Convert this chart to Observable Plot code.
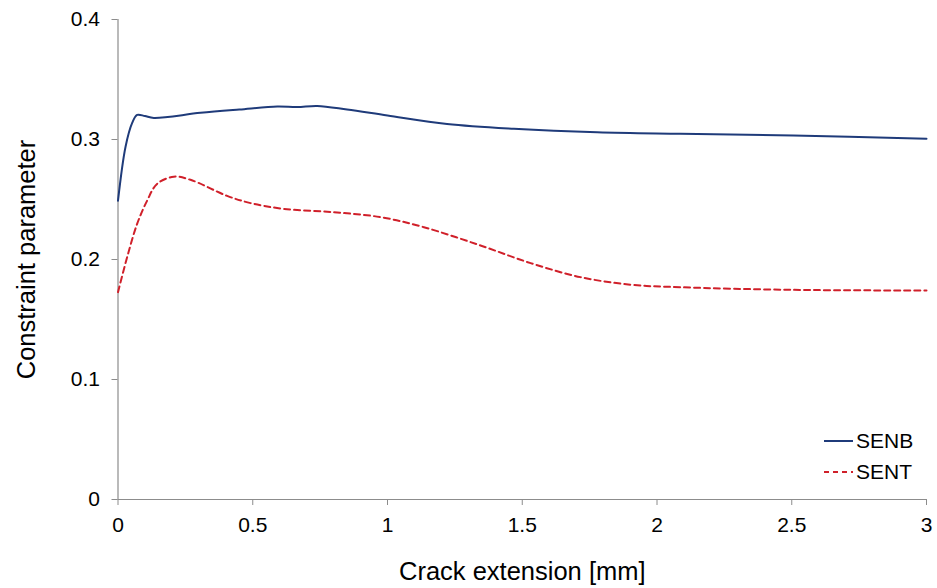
<!DOCTYPE html>
<html>
<head>
<meta charset="utf-8">
<script src="https://cdn.jsdelivr.net/npm/d3@7"></script>
<script src="https://cdn.jsdelivr.net/npm/@observablehq/plot@0.6"></script>
<style>
  body { margin: 0; background: #fff; font-family: "Liberation Sans", Arial, sans-serif; }
  #wrap { position: relative; width: 937px; height: 588px; }
  .leg { position: absolute; left: 824px; display: flex; align-items: center; font-size: 21px; color: #000; }
  .leg svg { margin-right: 3px; }
</style>
</head>
<body>
<div id="wrap"></div>
<script>
const senbX = [0, 0.028, 0.053, 0.071, 0.1, 0.133, 0.306, 0.45, 0.591, 0.665, 0.739, 0.85, 1.0, 1.221, 1.469, 1.778, 2.087, 2.506, 3.0];
const senbY = [0.249, 0.294, 0.314, 0.3205, 0.3195, 0.318, 0.3222, 0.325, 0.3275, 0.327, 0.328, 0.325, 0.320, 0.313, 0.309, 0.306, 0.3047, 0.3033, 0.3006];
const sentX = [0, 0.034, 0.071, 0.108, 0.145, 0.207, 0.269, 0.405, 0.492, 0.615, 0.801, 0.974, 1.135, 1.345, 1.531, 1.716, 1.902, 2.087, 2.506, 3.0];
const sentY = [0.1728, 0.202, 0.2297, 0.249, 0.263, 0.269, 0.2664, 0.253, 0.247, 0.2422, 0.2394, 0.2353, 0.2269, 0.2117, 0.197, 0.1853, 0.179, 0.1769, 0.1747, 0.1742];
const xTicks = [0, 0.5, 1, 1.5, 2, 2.5, 3];
const yTicks = [0, 0.1, 0.2, 0.3, 0.4];
const seriesNames = ["SENB", "SENT"];
const xLabel = "Crack extension [mm]";
const yLabel = "Constraint parameter";

const senb = senbX.map((x, i) => ({x, y: senbY[i]}));
const sent = sentX.map((x, i) => ({x, y: sentY[i]}));
const axisColor = "#8c8c8c";
const senbColor = "#1f3b7a";
const sentColor = "#d0202a";

const chart = Plot.plot({
  width: 937,
  height: 588,
  marginLeft: 117.5,
  marginRight: 11,
  marginTop: 19,
  marginBottom: 89,
  style: {fontFamily: "'Liberation Sans', Arial, sans-serif", background: "#fff"},
  x: {domain: [0, 3]},
  y: {domain: [0, 0.4]},
  marks: [
    Plot.axisX({ticks: xTicks, tickFormat: d => String(d), tickSize: 6, tickPadding: 12, fontSize: 21, stroke: axisColor, color: "#000", label: null}),
    Plot.axisY({ticks: yTicks, tickFormat: d => String(d), tickSize: 6, tickPadding: 12, fontSize: 21, stroke: axisColor, color: "#000", label: null}),
    Plot.ruleY([0], {stroke: axisColor, strokeWidth: 1.2}),
    Plot.ruleX([0], {stroke: axisColor, strokeWidth: 1.2}),
    Plot.line(sent, {x: "x", y: "y", stroke: sentColor, strokeWidth: 2, strokeDasharray: "6,4", curve: "catmull-rom"}),
    Plot.line(senb, {x: "x", y: "y", stroke: senbColor, strokeWidth: 2, curve: "catmull-rom"}),
    Plot.text([xLabel], {frameAnchor: "bottom", lineAnchor: "middle", textAnchor: "middle", dy: 72, fontSize: 25.5, fill: "#000"}),
    Plot.text([yLabel], {frameAnchor: "left", lineAnchor: "middle", textAnchor: "middle", dx: -91, rotate: -90, fontSize: 25.5, fill: "#000"})
  ]
});
const wrap = document.getElementById("wrap");
wrap.appendChild(chart);

const legendStyles = [
  {name: seriesNames[0], color: senbColor, dash: null, top: 429},
  {name: seriesNames[1], color: sentColor, dash: "5,4", top: 460}
];
for (const l of legendStyles) {
  const div = document.createElement("div");
  div.className = "leg";
  div.style.top = l.top + "px";
  div.innerHTML = `<svg width="29" height="24"><line x1="0" x2="29" y1="12" y2="12" stroke="${l.color}" stroke-width="2" ${l.dash ? `stroke-dasharray="${l.dash}"` : ""}/></svg><span>${l.name}</span>`;
  wrap.appendChild(div);
}
</script>
</body>
</html>
